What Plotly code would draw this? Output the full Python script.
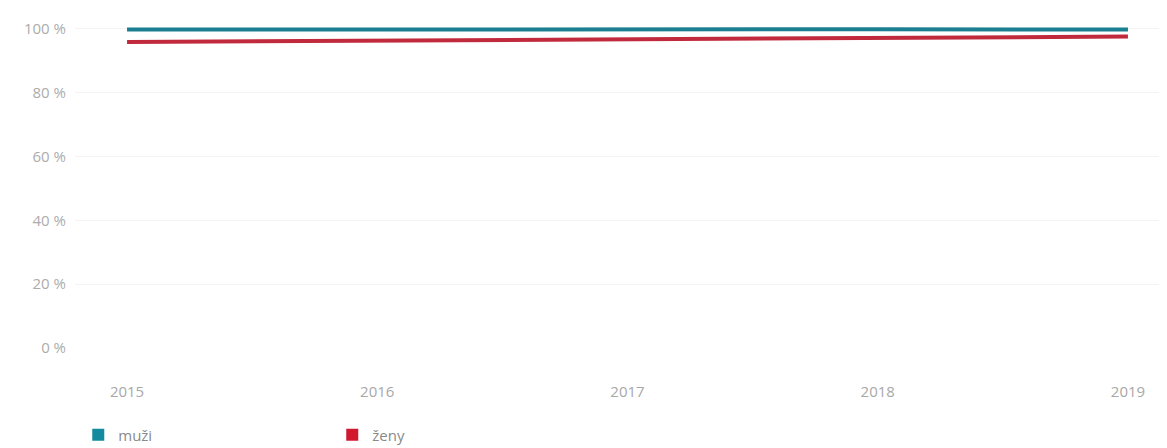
import plotly.graph_objects as go

years = [2015, 2016, 2017, 2018, 2019]
muzi = [99.8, 99.9, 100.0, 99.9, 99.8]
zeny = [95.9, 96.4, 96.9, 97.3, 97.6]
y_ticks = [0, 20, 40, 60, 80, 100]
y_labels = ["0 %", "20 %", "40 %", "60 %", "80 %", "100 %"]

teal = "#1b7e91"
red = "#c12a3c"

fig = go.Figure()
fig.add_trace(go.Scatter(x=years, y=muzi, mode="lines", line=dict(color=teal, width=4),
                         name="muži", showlegend=False, cliponaxis=False))
fig.add_trace(go.Scatter(x=years, y=zeny, mode="lines", line=dict(color=red, width=4),
                         name="ženy", showlegend=False, cliponaxis=False))
fig.add_trace(go.Scatter(x=[None], y=[None], mode="markers",
                         marker=dict(symbol="square", size=13, color="#138a9e"), name="muži"))
fig.add_trace(go.Scatter(x=[None], y=[None], mode="markers",
                         marker=dict(symbol="square", size=13, color="#d0182f"), name="ženy"))

fig.update_layout(
    width=1159, height=440,
    margin=dict(l=67, r=7, t=12, b=100, autoexpand=False),
    paper_bgcolor="white", plot_bgcolor="white",
    font=dict(family="Open Sans", color="#9a9a9a", size=12),
    xaxis=dict(range=[2014.792, 2019.128], tickmode="array", tickvals=years,
               ticktext=[str(y) for y in years], showgrid=False, zeroline=False,
               showline=False, ticks="", automargin=False, ticklabelstandoff=33,
               tickfont=dict(size=15, color="#a8a8a8")),
    yaxis=dict(range=[0, 102.8], tickmode="array", tickvals=y_ticks, ticktext=y_labels,
               showgrid=True, gridcolor="#f3f3f3", gridwidth=1, zeroline=False,
               showline=False, ticks="", ticklabelstandoff=8, automargin=False,
               tickfont=dict(size=15, color="#acacac")),
    legend=dict(orientation="h", x=0.003, xanchor="left", y=-0.265, yanchor="middle",
                entrywidth=209, entrywidthmode="pixels", itemwidth=30,
                font=dict(size=15, color="#8a8a8a"), itemsizing="constant"),
)

fig.write_html("out.html")
